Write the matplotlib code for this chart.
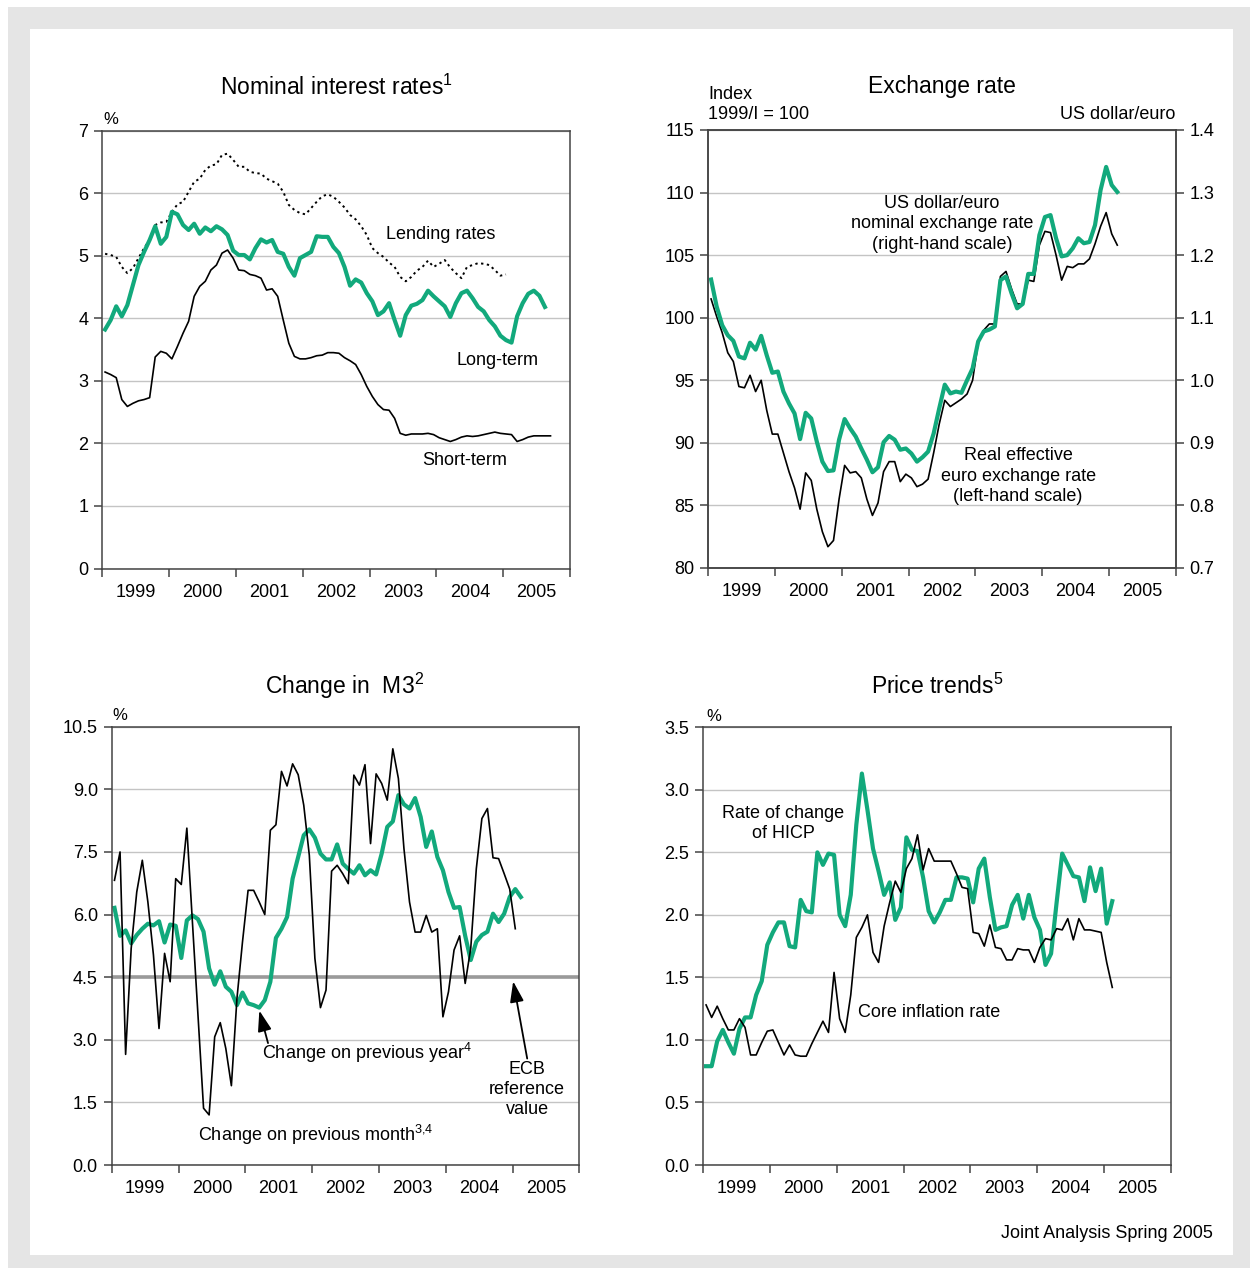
import numpy as np
import matplotlib
matplotlib.use('Agg')
import matplotlib.pyplot as plt
from matplotlib.patches import Rectangle

plt.rcParams['font.family'] = ['Liberation Sans', 'DejaVu Sans']
plt.rcParams['mathtext.fontset'] = 'custom'
plt.rcParams['mathtext.rm'] = 'Liberation Sans'

# Colours
green = '#12a97c'
grid_c = '#c4c4c4'
spine_c = '#444444'

# ---- Data (monthly, starting January 1999) ----
short_term = [3.14, 3.10, 3.05, 2.70, 2.59, 2.64, 2.68, 2.70, 2.73, 3.38, 3.47, 3.44,
              3.35, 3.55, 3.76, 3.95, 4.35, 4.51, 4.59, 4.77, 4.85, 5.04, 5.09, 4.96,
              4.77, 4.76, 4.70, 4.68, 4.64, 4.45, 4.47, 4.35, 3.97, 3.60, 3.39, 3.35,
              3.35, 3.37, 3.40, 3.41, 3.45, 3.45, 3.44, 3.37, 3.32, 3.26, 3.10, 2.91,
              2.75, 2.62, 2.54, 2.53, 2.40, 2.16, 2.13, 2.15, 2.15, 2.15, 2.16, 2.14,
              2.09, 2.06, 2.03, 2.06, 2.10, 2.12, 2.11, 2.12, 2.14, 2.16, 2.18, 2.16,
              2.15, 2.14, 2.03, 2.06, 2.10, 2.12, 2.12, 2.12, 2.12]
lending = [5.03, 5.01, 4.98, 4.82, 4.72, 4.80, 4.96, 5.12, 5.25, 5.49, 5.53, 5.54,
           5.70, 5.82, 5.86, 6.02, 6.18, 6.23, 6.37, 6.44, 6.46, 6.61, 6.63, 6.53,
           6.42, 6.42, 6.34, 6.32, 6.31, 6.23, 6.19, 6.15, 6.02, 5.81, 5.73, 5.68,
           5.66, 5.76, 5.86, 5.95, 5.98, 5.94, 5.86, 5.77, 5.65, 5.58, 5.47, 5.33,
           5.12, 5.04, 4.98, 4.89, 4.82, 4.66, 4.59, 4.66, 4.76, 4.82, 4.92, 4.82,
           4.87, 4.93, 4.81, 4.72, 4.64, 4.82, 4.85, 4.88, 4.87, 4.85, 4.77, 4.68,
           4.70]
long_term = [3.82, 3.97, 4.19, 4.03, 4.21, 4.53, 4.85, 5.06, 5.25, 5.47, 5.19, 5.30,
             5.70, 5.66, 5.49, 5.41, 5.51, 5.35, 5.45, 5.39, 5.47, 5.42, 5.33, 5.08,
             5.01, 5.01, 4.94, 5.12, 5.26, 5.21, 5.25, 5.06, 5.03, 4.82, 4.68, 4.96,
             5.01, 5.06, 5.31, 5.30, 5.30, 5.14, 5.04, 4.82, 4.52, 4.62, 4.57, 4.40,
             4.27, 4.05, 4.11, 4.24, 3.97, 3.72, 4.05, 4.20, 4.23, 4.29, 4.44, 4.35,
             4.27, 4.19, 4.02, 4.24, 4.40, 4.44, 4.32, 4.18, 4.11, 3.97, 3.87, 3.72,
             3.65, 3.61, 4.03, 4.24, 4.39, 4.44, 4.36, 4.18]

real_eff = [101.5, 100.1, 98.8, 97.2, 96.5, 94.5, 94.4, 95.4, 94.1, 95.0, 92.6, 90.7,
            90.7, 89.2, 87.7, 86.4, 84.7, 87.6, 87.0, 84.7, 82.9, 81.7, 82.2, 85.5,
            88.2, 87.6, 87.7, 87.2, 85.5, 84.2, 85.2, 87.7, 88.5, 88.5, 86.9, 87.5,
            87.2, 86.5, 86.7, 87.1, 89.2, 91.5, 93.4, 92.9, 93.2, 93.5, 93.9, 95.0,
            98.0, 99.0, 99.5, 99.5, 103.3, 103.7, 102.3, 101.1, 101.1, 103.0, 102.9, 105.8,
            106.9, 106.8, 105.0, 103.0, 104.1, 104.0, 104.3, 104.3, 104.7, 105.9, 107.3, 108.4,
            106.7, 105.8]
usd_eur = [1.161, 1.118, 1.088, 1.072, 1.063, 1.038, 1.035, 1.060, 1.049, 1.071, 1.040, 1.012,
           1.014, 0.982, 0.963, 0.947, 0.906, 0.948, 0.939, 0.902, 0.870, 0.855, 0.856, 0.905,
           0.938, 0.923, 0.910, 0.891, 0.873, 0.853, 0.861, 0.901, 0.911, 0.905, 0.889, 0.891,
           0.883, 0.870, 0.877, 0.886, 0.915, 0.955, 0.993, 0.979, 0.982, 0.980, 1.000, 1.019,
           1.062, 1.078, 1.081, 1.086, 1.160, 1.166, 1.139, 1.115, 1.122, 1.170, 1.170, 1.232,
           1.261, 1.264, 1.227, 1.198, 1.200, 1.211, 1.227, 1.219, 1.221, 1.248, 1.304, 1.341,
           1.312, 1.301]

m3_month = [6.82, 7.50, 2.65, 5.19, 6.54, 7.30, 6.30, 5.03, 3.27, 5.07, 4.39, 6.86,
            6.72, 8.07, 5.82, 3.59, 1.36, 1.20, 3.07, 3.41, 2.79, 1.90, 3.99, 5.35,
            6.58, 6.58, 6.30, 6.00, 8.02, 8.15, 9.43, 9.08, 9.61, 9.35, 8.62, 7.42,
            4.95, 3.77, 4.19, 7.04, 7.18, 6.98, 6.74, 9.34, 9.10, 9.59, 7.70, 9.37,
            9.14, 8.74, 9.97, 9.26, 7.58, 6.30, 5.58, 5.58, 5.98, 5.58, 5.66, 3.55,
            4.15, 5.15, 5.49, 4.35, 5.19, 7.10, 8.30, 8.54, 7.36, 7.34, 6.98, 6.61,
            5.66]
m3_year = [6.16, 5.49, 5.62, 5.31, 5.51, 5.66, 5.78, 5.74, 5.84, 5.33, 5.76, 5.73,
           4.96, 5.86, 5.98, 5.89, 5.59, 4.71, 4.32, 4.64, 4.27, 4.15, 3.83, 4.13,
           3.87, 3.83, 3.77, 3.95, 4.39, 5.44, 5.66, 5.94, 6.86, 7.38, 7.90, 8.04,
           7.84, 7.46, 7.32, 7.32, 7.68, 7.22, 7.09, 6.98, 7.18, 6.94, 7.06, 6.96,
           7.46, 8.10, 8.23, 8.86, 8.64, 8.54, 8.79, 8.34, 7.62, 7.99, 7.38, 7.06,
           6.54, 6.16, 6.18, 5.49, 4.91, 5.35, 5.51, 5.59, 6.02, 5.82, 6.02, 6.42,
           6.61, 6.42]
ecb_reference = 4.5

hicp = [0.79, 0.79, 0.99, 1.08, 0.98, 0.89, 1.09, 1.18, 1.18, 1.36, 1.47, 1.76,
        1.86, 1.94, 1.94, 1.75, 1.74, 2.12, 2.03, 2.02, 2.50, 2.40, 2.49, 2.48,
        2.00, 1.91, 2.16, 2.72, 3.13, 2.84, 2.53, 2.35, 2.16, 2.26, 1.96, 2.06,
        2.62, 2.52, 2.51, 2.30, 2.03, 1.94, 2.02, 2.12, 2.12, 2.30, 2.30, 2.29,
        2.10, 2.37, 2.45, 2.14, 1.88, 1.90, 1.91, 2.08, 2.16, 1.97, 2.16, 1.98,
        1.88, 1.60, 1.69, 2.10, 2.49, 2.40, 2.31, 2.30, 2.11, 2.38, 2.19, 2.37,
        1.93, 2.11]
core = [1.28, 1.18, 1.27, 1.17, 1.08, 1.08, 1.17, 1.10, 0.88, 0.88, 0.98, 1.07,
        1.08, 0.98, 0.88, 0.96, 0.88, 0.87, 0.87, 0.97, 1.06, 1.15, 1.06, 1.54,
        1.17, 1.06, 1.36, 1.82, 1.90, 2.00, 1.70, 1.62, 1.91, 2.10, 2.27, 2.18,
        2.37, 2.45, 2.64, 2.36, 2.53, 2.43, 2.43, 2.43, 2.43, 2.33, 2.22, 2.21,
        1.86, 1.85, 1.75, 1.92, 1.74, 1.73, 1.64, 1.64, 1.73, 1.72, 1.72, 1.62,
        1.74, 1.81, 1.80, 1.89, 1.88, 1.97, 1.80, 1.97, 1.88, 1.88, 1.87, 1.86,
        1.62, 1.42]

years = [1999, 2000, 2001, 2002, 2003, 2004, 2005]


def months(series):
    return 1999 + (np.arange(len(series)) + 0.5) / 12.0


def style_axes(ax, ylim, yticks, ylabels):
    ax.set_xlim(1999, 2006)
    ax.set_ylim(*ylim)
    ax.set_yticks(yticks)
    ax.set_yticklabels(ylabels)
    ax.set_xticks(range(1999, 2007))
    ax.set_xticklabels([])
    ax.set_xticks([y + 0.5 for y in years], minor=True)
    ax.set_xticklabels([str(y) for y in years], minor=True)
    ax.tick_params(axis='x', which='major', length=6, width=1.1, color=spine_c)
    ax.tick_params(axis='x', which='minor', length=0, pad=11, labelsize=13)
    ax.tick_params(axis='y', length=6, width=1.1, color=spine_c, labelsize=13, pad=4)
    for s in ax.spines.values():
        s.set_color(spine_c)
        s.set_linewidth(1.1)
    ax.grid(axis='y', color=grid_c, linewidth=1.0)
    ax.set_axisbelow(True)


arrow_style = dict(arrowstyle='-|>,head_length=0.9,head_width=0.3', color='black',
                   lw=1.3, mutation_scale=14, shrinkA=0, shrinkB=0)

fig = plt.figure(figsize=(12.5, 12.68), dpi=100)

# Background frame
fig.patches.append(Rectangle((8 / 1250, 0), 1, 1 - 7 / 1268, transform=fig.transFigure,
                             facecolor='#e5e5e5', edgecolor='none', zorder=-10))
fig.patches.append(Rectangle((30 / 1250, 13 / 1268), 1203 / 1250, 1226 / 1268,
                             transform=fig.transFigure, facecolor='white',
                             edgecolor='none', zorder=-9))

# ---- Nominal interest rates ----
ax1 = fig.add_axes([102.3 / 1250, 1 - 568.5 / 1268, 467.7 / 1250, 438 / 1268])
style_axes(ax1, (0, 7), range(0, 8), [str(v) for v in range(0, 8)])
ax1.plot(months(lending), lending, color='black', lw=1.4, ls=(0, (1.2, 1.8)))
ax1.plot(months(long_term), long_term, color=green, lw=3.0)
ax1.plot(months(short_term), short_term, color='black', lw=1.2)
ax1.text(2004.07, 5.34, 'Lending rates', ha='center', va='center', fontsize=13)
ax1.text(2004.91, 3.33, 'Long-term', ha='center', va='center', fontsize=13)
ax1.text(2004.43, 1.73, 'Short-term', ha='center', va='center', fontsize=13)
ax1.text(1999.12, 7.05, '%', ha='center', va='bottom', fontsize=12)
fig.text(336 / 1250, 1 - 87 / 1268, r'Nominal interest rates$^{\mathrm{1}}$',
         ha='center', va='center', fontsize=16.5)

# ---- Exchange rate ----
ax2 = fig.add_axes([708.3 / 1250, 1 - 568 / 1268, 467.4 / 1250, 438 / 1268])
style_axes(ax2, (80, 115), range(80, 116, 5), [str(v) for v in range(80, 116, 5)])
ax2r = ax2.twinx()
ax2r.set_ylim(0.7, 1.4)
rt = [0.7, 0.8, 0.9, 1.0, 1.1, 1.2, 1.3, 1.4]
ax2r.set_yticks(rt)
ax2r.set_yticklabels(['%.1f' % v for v in rt])
ax2r.tick_params(axis='y', length=6, width=1.1, color=spine_c, labelsize=13, pad=4)
for s in ax2r.spines.values():
    s.set_color(spine_c)
    s.set_linewidth(1.1)
ax2.plot(months(real_eff), real_eff, color='black', lw=1.2, zorder=3)
ax2r.plot(months(usd_eur), usd_eur, color=green, lw=3.0)
ax2.text(2002.50, 107.5, 'US dollar/euro\nnominal exchange rate\n(right-hand scale)',
         ha='center', va='center', fontsize=13, linespacing=1.25, zorder=5)
ax2.text(2003.64, 87.35, 'Real effective\neuro exchange rate\n(left-hand scale)',
         ha='center', va='center', fontsize=13, linespacing=1.25, zorder=5)
ax2.text(0, 1.015, 'Index\n1999/I = 100', transform=ax2.transAxes, ha='left',
         va='bottom', fontsize=13, linespacing=1.25)
ax2.text(1, 1.015, 'US dollar/euro', transform=ax2.transAxes, ha='right',
         va='bottom', fontsize=13)
fig.text(942 / 1250, 1 - 87 / 1268, 'Exchange rate', ha='center', va='center',
         fontsize=16.5)

# ---- Change in M3 ----
ax3 = fig.add_axes([111.7 / 1250, 1 - 1165 / 1268, 467.6 / 1250, 438.3 / 1268])
m3t = np.arange(0, 10.6, 1.5)
style_axes(ax3, (0, 10.5), m3t, ['%.1f' % v for v in m3t])
ax3.axhline(ecb_reference, color='#9a9a9a', lw=2.6, zorder=1)
ax3.plot(months(m3_month), m3_month, color='black', lw=1.2, zorder=3)
ax3.plot(months(m3_year), m3_year, color=green, lw=3.0, zorder=2)
ax3.annotate('', xy=(2001.21, 3.70), xytext=(2001.34, 2.92), arrowprops=arrow_style)
ax3.text(2001.25, 2.68, r'Change on previous year$^{\mathrm{4}}$', ha='left', va='center',
         fontsize=13)
ax3.annotate('', xy=(2005.01, 4.40), xytext=(2005.22, 2.55), arrowprops=arrow_style)
ax3.text(2005.22, 2.5, 'ECB\nreference\nvalue', ha='center', va='top', fontsize=13,
         linespacing=1.25)
ax3.text(2000.29, 0.72, r'Change on previous month$^{\mathrm{3{,}4}}$', ha='left',
         va='center', fontsize=13)
ax3.text(1999.12, 10.6, '%', ha='center', va='bottom', fontsize=12)
fig.text(345 / 1250, 1 - 686 / 1268, r'Change in  M3$^{\mathrm{2}}$', ha='center',
         va='center', fontsize=16.5)

# ---- Price trends ----
ax4 = fig.add_axes([703.3 / 1250, 1 - 1165 / 1268, 467.4 / 1250, 437.7 / 1268])
pt = np.arange(0, 3.6, 0.5)
style_axes(ax4, (0, 3.5), pt, ['%.1f' % v for v in pt])
ax4.plot(months(core), core, color='black', lw=1.2, zorder=3)
ax4.plot(months(hicp), hicp, color=green, lw=3.0, zorder=2)
ax4.text(2000.20, 2.73, 'Rate of change\nof HICP', ha='center', va='center', fontsize=13,
         linespacing=1.25)
ax4.text(2001.32, 1.22, 'Core inflation rate', ha='left', va='center', fontsize=13)
ax4.text(1999.15, 3.53, '%', ha='center', va='bottom', fontsize=12)
fig.text(937 / 1250, 1 - 686 / 1268, r'Price trends$^{\mathrm{5}}$', ha='center',
         va='center', fontsize=16.5)

fig.text(1213 / 1250, 1 - 1233 / 1268, 'Joint Analysis Spring 2005', ha='right',
         va='center', fontsize=13)

fig.savefig('out.png', dpi=100)
